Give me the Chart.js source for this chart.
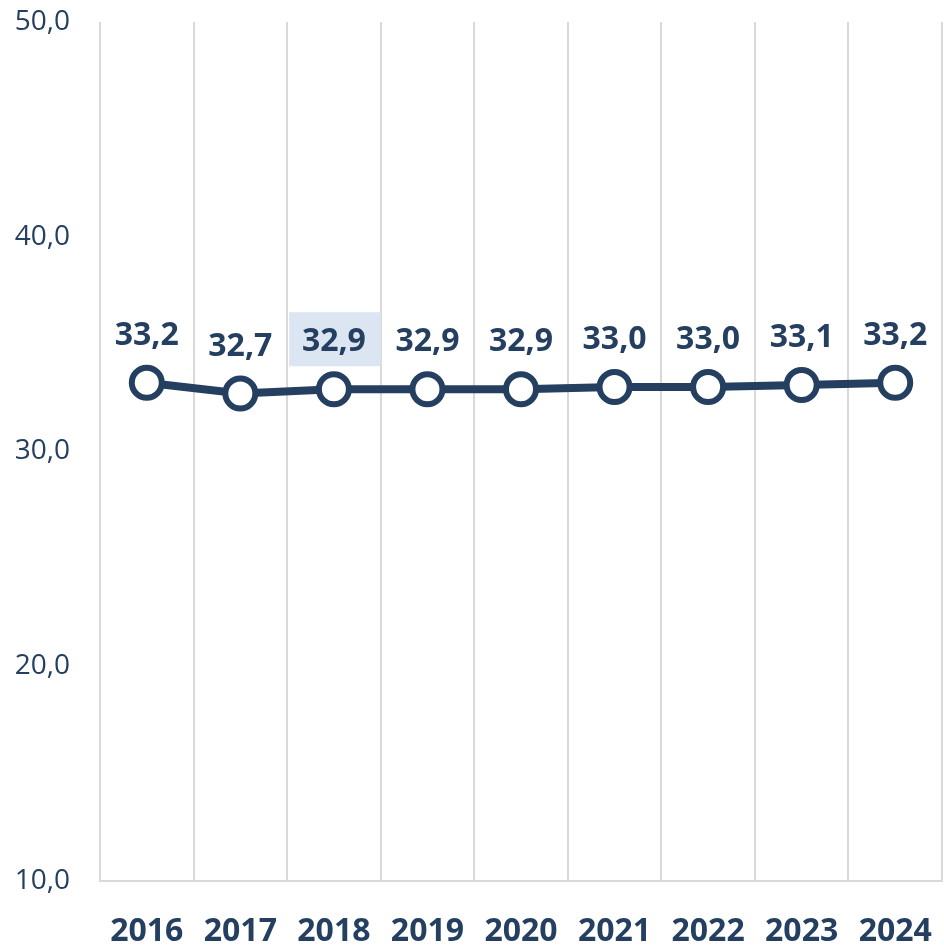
<!DOCTYPE html>
<html>
<head>
<meta charset="utf-8">
<script src="https://cdn.jsdelivr.net/npm/chart.js@4"></script>
<style>
  html, body { margin: 0; padding: 0; background: #fff; }
  #wrap { width: 944px; height: 948px; }
</style>
</head>
<body>
<div id="wrap"><canvas id="chart"></canvas></div>
<script>
const years = ['2016', '2017', '2018', '2019', '2020', '2021', '2022', '2023', '2024'];
const values = [33.2, 32.7, 32.9, 32.9, 32.9, 33.0, 33.0, 33.1, 33.2];
const yTicks = [10, 20, 30, 40, 50];
const highlightIndex = 2; // 2018 label has a shaded box

const navy = '#243F60';
const fmt = v => v.toFixed(1).replace('.', ',');

// draws the value above each point, like excel data labels
const valueLabels = {
  id: 'valueLabels',
  afterDatasetsDraw(chart) {
    const ctx = chart.ctx;
    const meta = chart.getDatasetMeta(0);
    const xScale = chart.scales.x;
    ctx.save();
    ctx.font = 'bold 32px "Open Sans"';
    ctx.textAlign = 'center';
    ctx.textBaseline = 'middle';
    meta.data.forEach((pt, i) => {
      const y = pt.y - 47;
      if (i === highlightIndex) {
        const half = (xScale.getPixelForValue(1) - xScale.getPixelForValue(0)) / 2;
        ctx.fillStyle = '#DCE6F2';
        ctx.fillRect(pt.x - half + 2, y - 30, half * 2 - 2, 54);
      }
      ctx.fillStyle = navy;
      ctx.fillText(fmt(values[i]), pt.x, y);
    });
    ctx.restore();
  }
};

new Chart(document.getElementById('chart'), {
  type: 'line',
  data: {
    labels: years,
    datasets: [{
      data: values,
      borderColor: navy,
      borderWidth: 8,
      pointRadius: 15,
      pointHoverRadius: 15,
      pointBorderWidth: 6,
      pointBackgroundColor: '#fff',
      pointBorderColor: navy,
      tension: 0
    }]
  },
  options: {
    responsive: true,
    maintainAspectRatio: false,
    animation: false,
    layout: { autoPadding: false, padding: { top: 0, right: 2, bottom: 0, left: 0 } },
    plugins: {
      legend: { display: false },
      tooltip: { enabled: false }
    },
    scales: {
      x: {
        offset: true,
        grid: { offset: true, color: '#D9D9D9', lineWidth: 2, drawTicks: false },
        border: { display: true, color: '#D9D9D9', width: 2 },
        ticks: {
          color: navy,
          padding: 32,
          font: { family: 'Open Sans', size: 32, weight: 'bold' }
        },
        afterFit: s => { s.height = 67; s.paddingLeft = 0; s.paddingRight = 0; }
      },
      y: {
        min: 10,
        max: 50,
        grid: { display: false, drawTicks: false },
        border: { display: false },
        afterBuildTicks: s => { s.ticks = yTicks.map(v => ({ value: v })); },
        ticks: {
          color: navy,
          padding: 30,
          font: { family: 'Open Sans', size: 28 },
          callback: v => fmt(v)
        },
        afterFit: s => { s.width = 100; s.paddingTop = 22; s.paddingBottom = 0; }
      }
    }
  },
  plugins: [valueLabels]
});
</script>
</body>
</html>
